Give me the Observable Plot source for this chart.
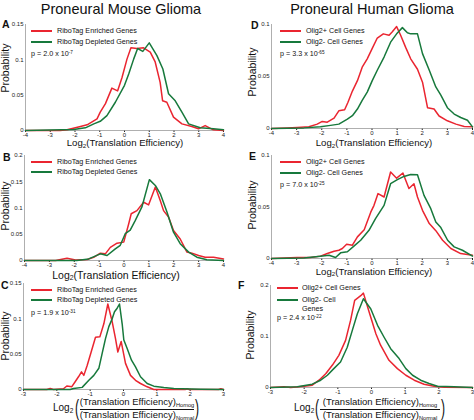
<!DOCTYPE html>
<html><head><meta charset="utf-8">
<script src="https://cdn.jsdelivr.net/npm/d3@7"></script>
<script src="https://cdn.jsdelivr.net/npm/@observablehq/plot@0.6"></script>
<style>
html,body{margin:0;padding:0;background:#fff;}
#fig{position:relative;width:474px;height:420px;overflow:hidden;background:#fff;font-family:"Liberation Sans",Arial,sans-serif;color:#111;}
.t{position:absolute;white-space:nowrap;line-height:1;}
.sub{font-size:65%;position:relative;top:0.25em;}
.sup{font-size:65%;position:relative;top:-0.45em;}
</style>
</head><body>
<div id="fig"></div>
<script>
// ---- data ----
const RED = "#ea2530", GREEN = "#17793c";

const aRedX = [-4,-2.6,-2.32,-1.78,-1.51,-1.11,-0.98,-0.77,-0.51,-0.28,-0.10,0.10,0.26,0.5,0.77,1.04,1.24,1.44,1.54,1.71,1.98,2.32,2.72,2.99,3.26,3.59,4];
const aRedY = [0,0,0.001,0.0057,0.008,0.0165,0.026,0.038,0.060,0.056,0.075,0.101,0.117,0.116,0.117,0.111,0.097,0.068,0.042,0.040,0.019,0.0094,0.0057,0.0024,0.007,0.001,0];
const aGreenX = [-4,-2.05,-1.58,-1.24,-0.98,-0.71,-0.37,0,0.17,0.37,0.53,0.74,1.0,1.31,1.55,1.78,2.05,2.32,2.59,3.06,3.59,4];
const aGreenY = [0,0.0014,0.0038,0.0094,0.013,0.021,0.040,0.064,0.080,0.101,0.116,0.112,0.124,0.106,0.087,0.052,0.042,0.026,0.0094,0.0038,0.0024,0.001];

const bRedX = [-4,-2.75,-2.29,-1.95,-1.48,-1.22,-0.95,-0.75,-0.55,-0.28,-0.01,0.19,0.29,0.52,0.79,0.99,1.26,1.46,1.59,1.79,1.99,2.26,2.53,2.73,3.0,3.26,3.6,4];
const bRedY = [0,0,0.0044,0.001,0.002,0.006,0.014,0.0127,0.025,0.033,0.035,0.07,0.089,0.095,0.111,0.106,0.14,0.114,0.095,0.083,0.057,0.041,0.016,0.014,0.0095,0.0063,0.006,0.003];
const bGreenX = [-4,-1.9,-1.42,-0.95,-0.68,-0.35,-0.15,0.05,0.25,0.45,0.72,1.02,1.26,1.46,1.73,1.99,2.26,2.6,2.93,3.33,4];
const bGreenY = [0,0,0.003,0.0127,0.0095,0.022,0.029,0.051,0.058,0.076,0.102,0.154,0.143,0.127,0.092,0.054,0.032,0.016,0.0063,0.0013,0];

const cRedX = [-3,-2.3,-2.2,-2.1,-1.8,-1.7,-1.55,-1.45,-1.35,-1.26,-1.19,-1.09,-0.97,-0.84,-0.71,-0.59,-0.47,-0.34,-0.24,-0.17,-0.07,0.06,0.21,0.36,0.51,0.71,0.91,1.85,1.91,1.97,2.85,2.92,3];
const cRedY = [0,0,0.0014,0,0.001,0.005,0.004,0.011,0.018,0.025,0.020,0.034,0.053,0.074,0.0745,0.093,0.121,0.096,0.072,0.053,0.068,0.037,0.020,0.013,0.0085,0.0038,0,0,0.001,0,0,0.001,0];
const cGreenX = [-3,-1.6,-1.5,-1.24,-1.04,-0.89,-0.74,-0.64,-0.54,-0.44,-0.34,-0.27,-0.19,-0.12,-0.04,0.01,0.11,0.24,0.36,0.51,0.71,0.91,1.21,1.51,2.32,3];
const cGreenY = [0,0,0.0014,0.003,0.013,0.020,0.030,0.051,0.072,0.089,0.100,0.110,0.115,0.121,0.093,0.070,0.058,0.0415,0.032,0.018,0.0085,0.0047,0.0028,0.0014,0.0005,0];

const dRedX = [-4,-3.38,-2.98,-2.51,-2.18,-1.98,-1.78,-1.51,-1.32,-1.09,-0.96,-0.78,-0.58,-0.39,-0.19,0.01,0.21,0.45,0.68,0.81,0.98,1.14,1.34,1.54,1.81,2.01,2.21,2.47,2.67,3.0,3.34,3.67,4];
const dRedY = [0,0.0006,0.001,0.0016,0.0042,0.0068,0.0061,0.010,0.017,0.018,0.025,0.036,0.046,0.059,0.067,0.077,0.087,0.091,0.0897,0.093,0.098,0.0897,0.078,0.067,0.057,0.0445,0.020,0.0187,0.012,0.0074,0.0042,0.0019,0.0016];
const dGreenX = [-4,-2.71,-2.05,-1.65,-1.32,-0.98,-0.78,-0.58,-0.39,-0.19,0.01,0.21,0.48,0.74,0.98,1.21,1.41,1.54,1.81,2.01,2.28,2.54,2.74,3.0,3.27,3.53,3.8,4];
const dGreenY = [0,0.0006,0.0016,0.003,0.0042,0.009,0.0123,0.0187,0.027,0.035,0.046,0.056,0.0687,0.083,0.091,0.097,0.092,0.091,0.091,0.072,0.056,0.040,0.032,0.020,0.0139,0.0106,0.008,0.0016];

const eRedX = [-4,-2.98,-2.45,-2.05,-1.78,-1.51,-1.32,-1.18,-1.01,-0.78,-0.58,-0.31,-0.05,0.08,0.24,0.48,0.74,0.98,1.23,1.47,1.67,1.81,2.01,2.28,2.54,2.81,3.14,3.53,4];
const eRedY = [0,0.001,0.001,0.0023,0.0048,0.0071,0.008,0.0097,0.0139,0.0129,0.021,0.028,0.045,0.0516,0.063,0.0597,0.084,0.078,0.083,0.068,0.0726,0.0597,0.0468,0.0339,0.027,0.0177,0.0097,0.0048,0.0032];
const eGreenX = [-4,-2.71,-2.05,-1.71,-1.45,-1.25,-0.98,-0.72,-0.45,-0.12,0.14,0.48,0.74,1.01,1.27,1.54,1.81,2.07,2.34,2.54,2.74,3.01,3.27,3.6,4];
const eGreenY = [0,0.0006,0.0023,0.0032,0.001,0.0055,0.0065,0.012,0.0177,0.0274,0.0387,0.0516,0.0726,0.0765,0.0797,0.0816,0.0813,0.0613,0.0484,0.0355,0.030,0.0177,0.0113,0.008,0.0023];

const fRedX = [-3,-2.6,-2.4,-2.0,-1.76,-1.56,-1.36,-1.16,-0.97,-0.77,-0.62,-0.5,-0.32,-0.24,-0.07,0.13,0.27,0.52,0.77,1.02,1.27,1.56,1.86,2.16,3];
const fRedY = [0,0.0013,0,0.0026,0.0046,0.0143,0.027,0.044,0.063,0.0925,0.132,0.171,0.18,0.185,0.148,0.1055,0.083,0.0534,0.037,0.024,0.0143,0.0065,0.0026,0.0006,0];
const fGreenX = [-3,-2.2,-1.76,-1.51,-1.31,-1.12,-0.92,-0.72,-0.57,-0.42,-0.24,-0.02,0.18,0.37,0.57,0.82,1.02,1.22,1.46,1.71,1.96,2.46,3];
const fGreenY = [0,0.0013,0.0065,0.0143,0.024,0.037,0.050,0.079,0.112,0.1446,0.174,0.154,0.122,0.099,0.076,0.0567,0.037,0.024,0.0143,0.0078,0.0026,0.0013,0];

const ticks4 = [-4,-3,-2,-1,0,1,2,3,4];
const ticks3 = [-3,-2,-1,0,1,2,3];
const yTicksA = [0,0.05,0.1,0.15];
const yTicksB = [0,0.05,0.1,0.15,0.2];
const yTicksC = [0,0.05,0.1,0.15];
const yTicksD = [0,0.05,0.1];
const yTicksE = [0,0.05,0.1];
const yTicksF = [0,0.1,0.2];

const mouseLegend = ["RiboTag Enriched Genes", "RiboTag Depleted Genes"];
const humanLegend = ["Olig2+ Cell Genes", "Olig2- Cell Genes"];

// ---- layout ----
const fig = document.getElementById("fig");
const FONT = '"Liberation Sans",Arial,sans-serif';

function panel(p) {
  const mL = 20, mR = 5, mT = 4, mB = 10;
  const svg = Plot.plot({
    width: p.right - p.left + mL + mR,
    height: p.bottom - p.top + mT + mB,
    marginLeft: mL, marginRight: mR, marginTop: mT, marginBottom: mB,
    style: {fontFamily: FONT, fontSize: "6px", color: "#222", background: "transparent", overflow: "visible"},
    x: {domain: p.xDomain, ticks: p.xTicks, tickSize: 2, tickPadding: 0.5, tickFormat: d => String(d), label: null},
    y: {domain: p.yDomain, ticks: p.yTicks, tickSize: 0, tickPadding: 2, tickFormat: d => String(d), label: null},
    marks: [
      Plot.ruleX([p.xDomain[0]], {stroke: "#9a9a9a", strokeWidth: 0.8}),
      Plot.ruleY([0], {stroke: "#9a9a9a", strokeWidth: 0.8}),
      Plot.line(p.redY, {x: p.redX, y: p.redY, stroke: RED, strokeWidth: 1.5}),
      Plot.line(p.greenY, {x: p.greenX, y: p.greenY, stroke: GREEN, strokeWidth: 1.5})
    ]
  });
  svg.style.position = "absolute";
  svg.style.left = (p.left - mL) + "px";
  svg.style.top = (p.top - mT) + "px";
  fig.appendChild(svg);
}

function t(html, x, y, size, o = {}) {
  const d = document.createElement("div");
  d.className = "t";
  d.innerHTML = html;
  d.style.left = x + "px";
  d.style.top = y + "px";
  d.style.fontSize = size + "px";
  if (o.weight) d.style.fontWeight = o.weight;
  let tr = o.anchor === "middle" ? "translate(-50%,-50%)" : "translate(0,-50%)";
  if (o.rotate) tr = "translate(-50%,-50%) rotate(-90deg)";
  if (o.scale) tr += " " + o.scale;
  d.style.transform = tr;
  fig.appendChild(d);
  return d;
}
function seg(x1, x2, y, color) {
  const d = document.createElement("div");
  d.style.cssText = `position:absolute;left:${x1}px;top:${y - 0.75}px;width:${x2 - x1}px;height:1.5px;background:${color}`;
  fig.appendChild(d);
}
function legend(labels, x, y1, y2) {
  seg(x, x + 21, y1, RED); seg(x, x + 21, y2, GREEN);
  t(labels[0], x + 26, y1, 7.2);
  t(labels[1], x + 26, y2, 7.2);
}

panel({left: 25, right: 223, top: 24, bottom: 130, xDomain: [-4, 4], yDomain: [0, 0.15], xTicks: ticks4, yTicks: yTicksA,
  redX: aRedX, redY: aRedY, greenX: aGreenX, greenY: aGreenY});
panel({left: 24, right: 223, top: 155, bottom: 260, xDomain: [-4, 4], yDomain: [0, 0.2], xTicks: ticks4, yTicks: yTicksB,
  redX: bRedX, redY: bRedY, greenX: bGreenX, greenY: bGreenY});
panel({left: 23, right: 223, top: 283, bottom: 389, xDomain: [-3, 3], yDomain: [0, 0.15], xTicks: ticks3, yTicks: yTicksC,
  redX: cRedX, redY: cRedY, greenX: cGreenX, greenY: cGreenY});
panel({left: 271, right: 472, top: 24, bottom: 128, xDomain: [-4, 4], yDomain: [0, 0.1], xTicks: ticks4, yTicks: yTicksD,
  redX: dRedX, redY: dRedY, greenX: dGreenX, greenY: dGreenY});
panel({left: 271, right: 472, top: 155, bottom: 258, xDomain: [-4, 4], yDomain: [0, 0.1], xTicks: ticks4, yTicks: yTicksE,
  redX: eRedX, redY: eRedY, greenX: eGreenX, greenY: eGreenY});
panel({left: 270, right: 472, top: 285, bottom: 387, xDomain: [-3, 3], yDomain: [0, 0.2], xTicks: ticks3, yTicks: yTicksF,
  redX: fRedX, redY: fRedY, greenX: fGreenX, greenY: fGreenY});

// titles
t("Proneural Mouse Glioma", 121, 9, 14.5, {anchor: "middle"});
t("Proneural Human Glioma", 372, 9, 14.5, {anchor: "middle"});

// panel letters
t("A", 2, 24, 10.5, {weight: "bold"});
t("B", 3, 157, 10.5, {weight: "bold"});
t("C", 1, 285, 10.5, {weight: "bold"});
t("D", 251, 25, 10.5, {weight: "bold"});
t("E", 249, 156, 10.5, {weight: "bold"});
t("F", 238, 285, 10.5, {weight: "bold"});

// y labels
t("Probability", 5, 68, 10.5, {rotate: true});
t("Probability", 5, 206, 10.5, {rotate: true});
t("Probability", 5, 336, 10.5, {rotate: true});
t("Probability", 252, 72, 10.5, {rotate: true});
t("Probability", 252, 205, 10.5, {rotate: true});
t("Probability", 250, 335, 10.5, {rotate: true});

// legends
legend(mouseLegend, 31, 31, 42);
legend(mouseLegend, 31, 162, 172);
legend(mouseLegend, 31, 290, 300);
legend(humanLegend, 280, 31, 42);
legend(humanLegend, 280, 162, 173);
seg(277, 298, 288, RED); seg(277, 298, 300, GREEN);
t(humanLegend[0], 302, 288, 7.2);
t("Olig2- Cell", 302, 300, 7.2);
t("Genes", 302, 309, 7.2);

// p values
t('p = 2.0 x 10<span class="sup">-7</span>', 31, 54, 7.2);
t('p = 1.9 x 10<span class="sup">-31</span>', 31, 313, 7.2);
t('p = 3.3 x 10<span class="sup">-65</span>', 280, 54, 7.2);
t('p = 7.0 x 10<span class="sup">-25</span>', 280, 185, 7.2);
t('p = 2.4 x 10<span class="sup">-22</span>', 277, 318, 7.2);

// x labels
const teLabel = 'Log<span class="sub">2</span>(Translation Efficiency)';
t(teLabel, 125, 143, 9.6, {anchor: "middle"});
t(teLabel, 116, 274.5, 10.5, {anchor: "middle"});
t(teLabel, 374, 143, 9.6, {anchor: "middle"});
t(teLabel, 374, 271.5, 9.6, {anchor: "middle"});

function fracLabel(logX, lp, x1, x2, rp) {
  t('Log<span class="sub">2</span>', logX, 408, 10);
  t("(", lp, 408, 22, {anchor: "middle", scale: "scaleX(0.55)"});
  t(")", rp, 408, 22, {anchor: "middle", scale: "scaleX(0.55)"});
  const cx = (x1 + x2) / 2;
  t('(Translation Efficiency)<span style="font-size:60%;position:relative;top:0.3em">Homog</span>', cx, 402, 9.5, {anchor: "middle"});
  const bar = document.createElement("div");
  bar.style.cssText = `position:absolute;left:${x1}px;top:408.5px;width:${x2 - x1}px;height:1px;background:#111`;
  fig.appendChild(bar);
  t('(Translation Efficiency)<span style="font-size:60%;position:relative;top:0.3em">Normal</span>', cx, 415, 9.5, {anchor: "middle"});
}
fracLabel(53, 77, 80, 194, 197);
fracLabel(294, 317, 320, 440, 443);
</script>
</body></html>
